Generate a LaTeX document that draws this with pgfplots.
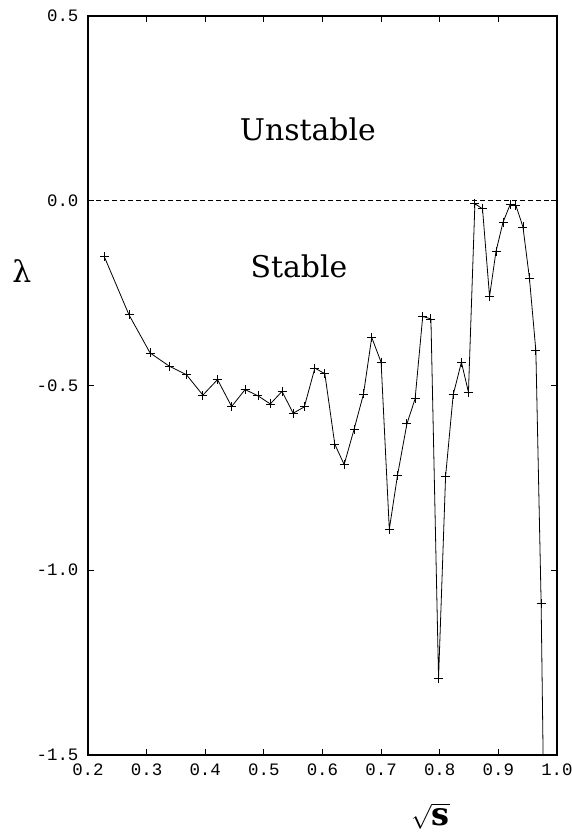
\documentclass[border=0pt]{standalone}
\usepackage{fontspec}
\usepackage{pgfplots}
\pgfplotsset{compat=1.18}
\newfontfamily\monofont{Liberation Mono}
\newfontfamily\regfont{DejaVu Serif}

\pgfplotstableread{
x y
0.228 -0.152
0.270 -0.309
0.306 -0.412
0.339 -0.448
0.368 -0.471
0.396 -0.526
0.421 -0.484
0.445 -0.557
0.468 -0.511
0.490 -0.528
0.511 -0.550
0.531 -0.516
0.550 -0.575
0.569 -0.558
0.587 -0.453
0.604 -0.468
0.621 -0.659
0.637 -0.714
0.654 -0.618
0.670 -0.523
0.684 -0.370
0.700 -0.437
0.714 -0.889
0.728 -0.743
0.744 -0.604
0.758 -0.536
0.771 -0.313
0.785 -0.320
0.798 -1.292
0.810 -0.746
0.823 -0.525
0.837 -0.437
0.849 -0.518
0.860 -0.008
0.873 -0.022
0.885 -0.259
0.896 -0.137
0.908 -0.058
0.920 -0.011
0.930 -0.013
0.942 -0.071
0.953 -0.209
0.964 -0.406
0.973 -1.091
0.978 -1.700
}\lambdadata

\begin{document}
\begin{tikzpicture}
\begin{axis}[
  scale only axis, width=469bp, height=739bp,
  xmin=0.2, xmax=1.0, ymin=-1.5, ymax=0.5,
  clip mode=individual,
  axis line style={line width=1.4bp},
  xtick={0.2,0.3,0.4,0.5,0.6,0.7,0.8,0.9,1.0},
  xticklabels={0.2,0.3,0.4,0.5,0.6,0.7,0.8,0.9,1.0},
  ytick={-1.5,-1.0,-0.5,0.0,0.5},
  yticklabels={-1.5,-1.0,-0.5,0.0,0.5},
  tick align=inside, major tick length=6bp,
  tick style={line width=1.2bp, black},
  tick label style={font=\monofont\fontsize{17.5}{17.5}\selectfont},
  yticklabel style={xshift=-6bp},
  xticklabel style={yshift=-5bp},
]
\addplot[black, line width=0.5bp, dash pattern=on 5bp off 3bp, forget plot]
  coordinates {(0.2,0) (1.0,0)};
\addplot[black, line width=0.8bp, mark=+, mark size=4.5bp,
  mark options={line width=0.9bp}] table {\lambdadata};
\node[font=\regfont\fontsize{30}{30}\selectfont] at (axis cs:0.575,0.192) {Unstable};
\node[font=\regfont\fontsize{30}{30}\selectfont] at (axis cs:0.56,-0.178) {Stable};
\node[font=\regfont\fontsize{30}{30}\selectfont] at (rel axis cs:-0.141,0.655) {λ};
\node[font=\fontsize{32}{32}\selectfont] at (rel axis cs:0.73,-0.083)
  {$\sqrt{\mbox{\regfont\bfseries s}}$};
\coordinate (bl) at (rel axis cs:-0.1876,-0.111);
\coordinate (tr) at (rel axis cs:1.032,1.02165);
\end{axis}
\pgfresetboundingbox
\useasboundingbox (bl) rectangle (tr);
\end{tikzpicture}
\end{document}
